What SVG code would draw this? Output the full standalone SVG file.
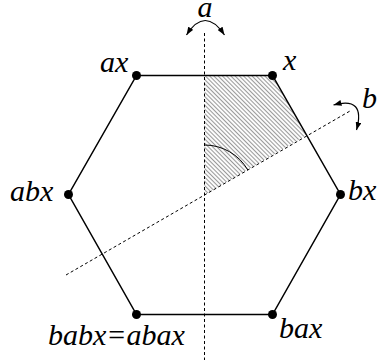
<svg xmlns="http://www.w3.org/2000/svg" width="381" height="360" viewBox="0 0 381 360">
<style>
.hex{fill:none;stroke:#000;stroke-width:1.5;stroke-linejoin:miter}
.axis{fill:none;stroke:#000;stroke-width:1;stroke-dasharray:3,2.5}
.rot{fill:none;stroke:#000;stroke-width:1.2}
.dot{fill:#000}
.lbl{font-family:"Liberation Serif","Times New Roman",serif;font-style:italic;font-size:30px;fill:#000}
</style>
<defs>
<pattern id="hatch" width="3" height="3" patternUnits="userSpaceOnUse" patternTransform="rotate(45)">
<line x1="0" y1="1.5" x2="3" y2="1.5" stroke="#999" stroke-width="1.1"/>
</pattern>
<marker id="ah" viewBox="0 0 8 6" refX="8" refY="3" markerWidth="8" markerHeight="6" markerUnits="userSpaceOnUse" orient="auto-start-reverse">
<path d="M0,0 L8,3 L0,6 Z" fill="#000"/>
</marker>
</defs>
<g id="shaded">
<polygon points="204.5,195 204.5,75.5 272.5,75.5 306.5,135" fill="url(#hatch)" stroke="none"/>
<path d="M204.5,145 A50,50 0 0 1 247.8,170" fill="none" stroke="#000" stroke-width="1"/>
</g>
<g id="connectors">
<polygon class="hex" points="136.5,75.5 272.5,75.5 340.5,194.5 272.5,314.5 136.5,314.5 68.5,194.5"/>
<line class="axis" x1="204.5" y1="33" x2="204.5" y2="360"/>
<line class="axis" x1="66" y1="275" x2="350" y2="111"/>
<path class="rot" d="M186.5,35 Q205,6 224.5,35" marker-start="url(#ah)" marker-end="url(#ah)"/>
<path class="rot" d="M333.5,105 Q366,96 356.5,130" marker-start="url(#ah)" marker-end="url(#ah)"/>
</g>
<g id="label-a"><text class="lbl" x="205" y="17" text-anchor="middle">a</text></g>
<g id="label-b"><text class="lbl" x="362" y="108">b</text></g>
<g id="node-x"><circle class="dot" cx="272.5" cy="75.5" r="4.5"/><text class="lbl" x="283" y="70">x</text></g>
<g id="node-ax"><circle class="dot" cx="136.5" cy="75.5" r="4.5"/><text class="lbl" x="100" y="71.5">ax</text></g>
<g id="node-abx"><circle class="dot" cx="68.5" cy="194.5" r="4.5"/><text class="lbl" x="10" y="201">abx</text></g>
<g id="node-bx"><circle class="dot" cx="340.5" cy="194.5" r="4.5"/><text class="lbl" x="348" y="200">bx</text></g>
<g id="node-bax"><circle class="dot" cx="272.5" cy="314.5" r="4.5"/><text class="lbl" x="279" y="338">bax</text></g>
<g id="node-babx"><circle class="dot" cx="136.5" cy="314.5" r="4.5"/><text class="lbl" x="48" y="345">babx=abax</text></g>
</svg>
